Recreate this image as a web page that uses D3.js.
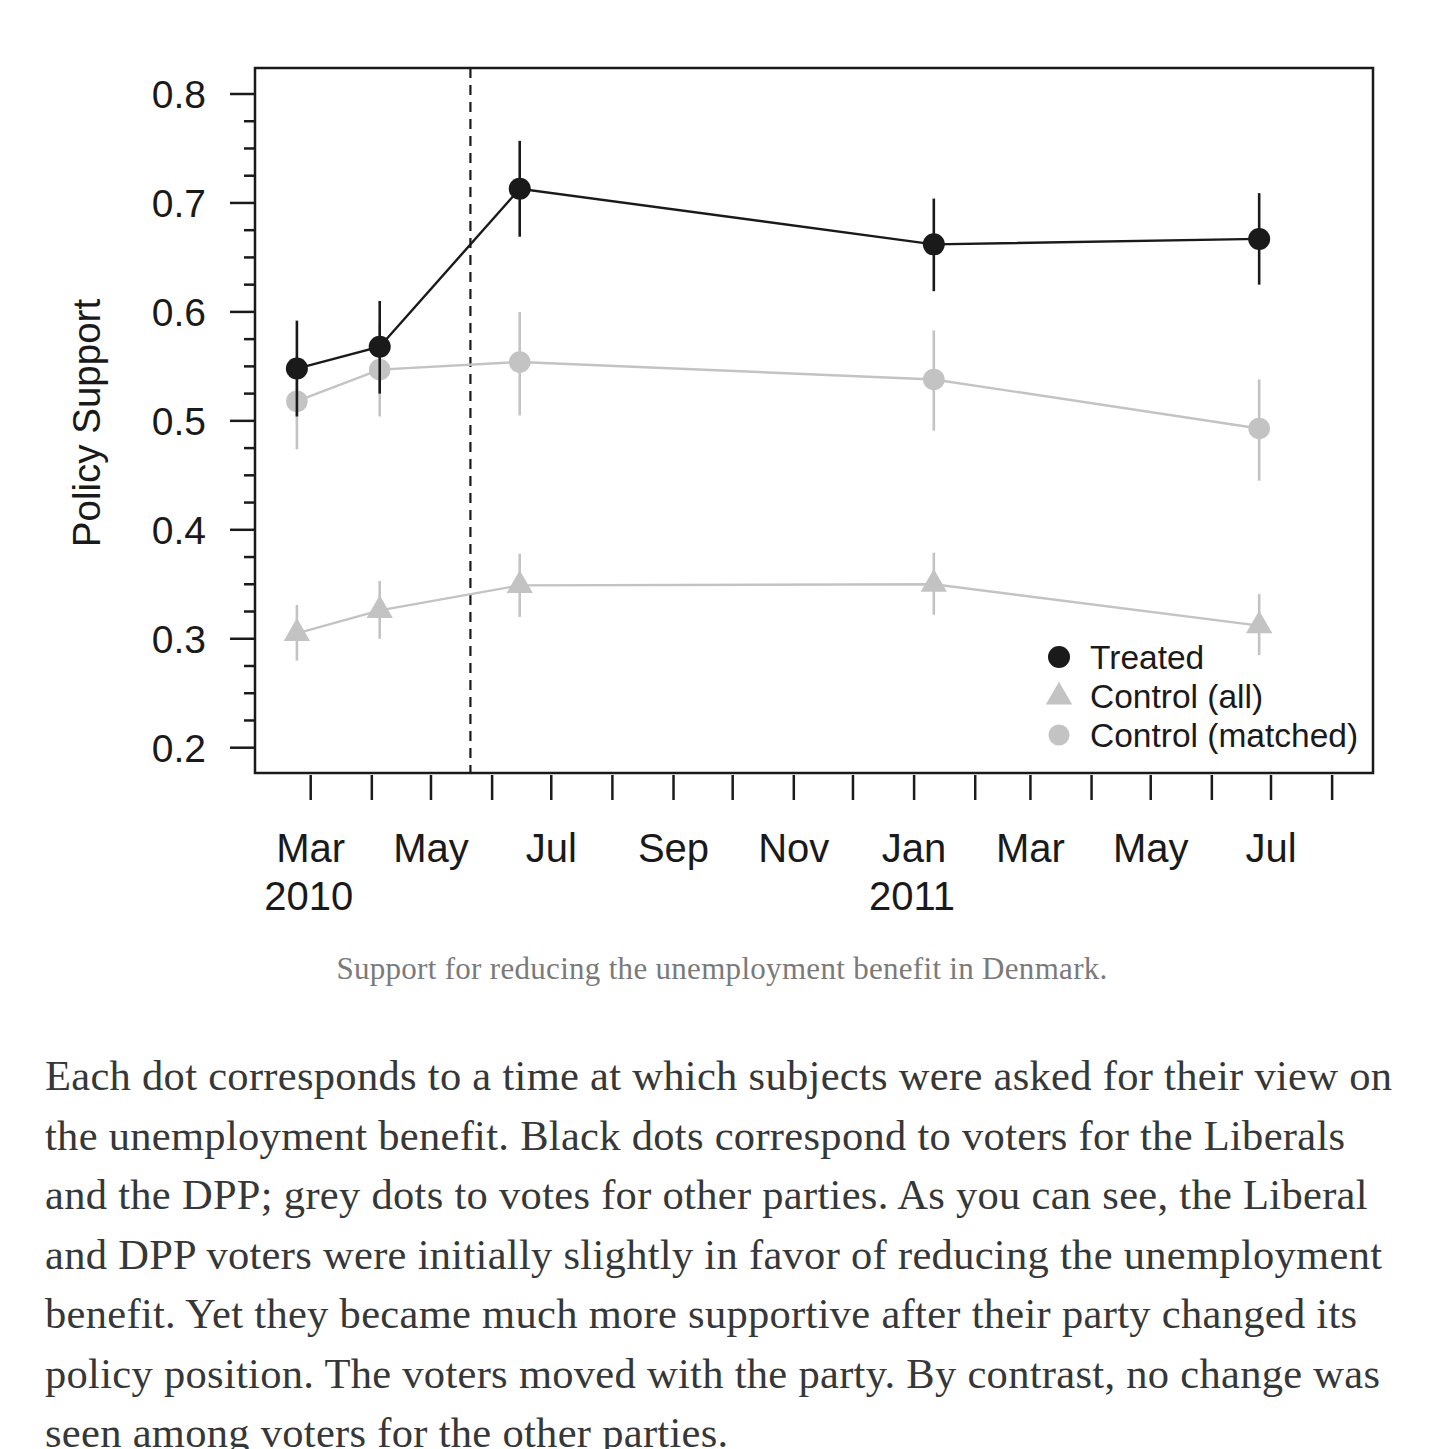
<!DOCTYPE html>
<html>
<head>
<meta charset="utf-8">
<script src="https://cdn.jsdelivr.net/npm/d3@7/dist/d3.min.js"></script>
<style>
  body { margin: 0; background: #fff; }
  svg { display: block; }
</style>
</head>
<body>
<svg id="chart" width="1456" height="1449"></svg>
<script>
// survey waves and estimates
const surveyDates = ["2010-02-22", "2010-04-05", "2010-06-15", "2011-01-11", "2011-06-25"];
const treatedMean = [0.548, 0.568, 0.713, 0.662, 0.667];
const treatedLow = [0.504, 0.525, 0.669, 0.619, 0.625];
const treatedHigh = [0.592, 0.610, 0.757, 0.704, 0.709];
const controlAllMean = [0.305, 0.326, 0.349, 0.350, 0.312];
const controlAllLow = [0.280, 0.300, 0.320, 0.322, 0.285];
const controlAllHigh = [0.331, 0.353, 0.378, 0.379, 0.341];
const matchedMean = [0.518, 0.547, 0.554, 0.538, 0.493];
const matchedLow = [0.474, 0.504, 0.505, 0.491, 0.445];
const matchedHigh = [0.560, 0.589, 0.600, 0.583, 0.538];
const policyChangeDate = "2010-05-21";

const yMajorTicks = [0.2, 0.3, 0.4, 0.5, 0.6, 0.7, 0.8];
const monthNames = ["Jan", "Feb", "Mar", "Apr", "May", "Jun", "Jul", "Aug", "Sep", "Oct", "Nov", "Dec"];
const legendLabels = ["Treated", "Control (all)", "Control (matched)"];
const yTitle = "Policy Support";
const caption = "Support for reducing the unemployment benefit in Denmark.";
const bodyLines = [
  "Each dot corresponds to a time at which subjects were asked for their view on",
  "the unemployment benefit. Black dots correspond to voters for the Liberals",
  "and the DPP; grey dots to votes for other parties. As you can see, the Liberal",
  "and DPP voters were initially slightly in favor of reducing the unemployment",
  "benefit. Yet they became much more supportive after their party changed its",
  "policy position. The voters moved with the party. By contrast, no change was",
  "seen among voters for the other parties."
];

const BLACK = "#1a1a1a";
const GREY = "#c3c3c3";
const sans = "'Liberation Sans', Arial, Helvetica, sans-serif";
const serif = "'Liberation Serif', 'DejaVu Serif', serif";

const box = { left: 255, right: 1373, top: 68, bottom: 773 };
const parse = d3.utcParse("%Y-%m-%d");

const x = d3.scaleUtc()
  .domain([parse("2010-03-01"), parse("2011-07-01")])
  .range([310.7, 1271]);
const y = d3.scaleLinear().domain([0.2, 0.8]).range([747.7, 94]);

const svg = d3.select("#chart");

function buildSeries(mean, low, high) {
  return surveyDates.map((d, i) => ({ date: parse(d), mean: mean[i], low: low[i], high: high[i] }));
}
const treated = buildSeries(treatedMean, treatedLow, treatedHigh);
const controlAll = buildSeries(controlAllMean, controlAllLow, controlAllHigh);
const matched = buildSeries(matchedMean, matchedLow, matchedHigh);

// y axis ticks (major every 0.1, minor every 0.025)
const yMinor = d3.range(0, 25).map((i) => 0.2 + i * 0.025).filter((v) => v <= 0.8001);
svg.append("g").selectAll("line")
  .data(yMinor)
  .join("line")
  .attr("x1", (d) => yMajorTicks.some((t) => Math.abs(t - d) < 1e-6) ? 230 : 244)
  .attr("x2", box.left)
  .attr("y1", (d) => y(d)).attr("y2", (d) => y(d))
  .attr("stroke", BLACK).attr("stroke-width", 2.5);

svg.append("g").selectAll("text")
  .data(yMajorTicks)
  .join("text")
  .attr("x", 206)
  .attr("y", (d) => y(d) + 14)
  .attr("text-anchor", "end")
  .attr("font-family", sans).attr("font-size", 39).attr("fill", BLACK)
  .text((d) => d.toFixed(1));

svg.append("text")
  .attr("transform", "translate(100,423) rotate(-90)")
  .attr("text-anchor", "middle")
  .attr("font-family", sans).attr("font-size", 38.5).attr("fill", BLACK)
  .text(yTitle);

// x axis: monthly ticks below the box, labels every second month
const months = d3.utcMonth.range(parse("2010-03-01"), parse("2011-08-02"));
svg.append("g").selectAll("line")
  .data(months)
  .join("line")
  .attr("x1", (d) => x(d)).attr("x2", (d) => x(d))
  .attr("y1", 775).attr("y2", 800)
  .attr("stroke", BLACK).attr("stroke-width", 2.5);

const labelled = months.filter((d) => d.getUTCMonth() % 2 === 0);
svg.append("g").selectAll("text")
  .data(labelled)
  .join("text")
  .attr("x", (d) => x(d))
  .attr("y", 862)
  .attr("text-anchor", "middle")
  .attr("font-family", sans).attr("font-size", 40).attr("fill", BLACK)
  .text((d) => monthNames[d.getUTCMonth()]);

svg.append("g").selectAll("text")
  .data(months.filter((d) => d.getUTCMonth() === 2 && d.getUTCFullYear() === 2010 || d.getUTCMonth() === 0))
  .join("text")
  .attr("x", (d) => x(d) - 2)
  .attr("y", 910)
  .attr("text-anchor", "middle")
  .attr("font-family", sans).attr("font-size", 40).attr("fill", BLACK)
  .text((d) => d.getUTCFullYear());

// policy change marker
svg.append("line")
  .attr("x1", x(parse(policyChangeDate))).attr("x2", x(parse(policyChangeDate)))
  .attr("y1", box.top).attr("y2", box.bottom)
  .attr("stroke", BLACK).attr("stroke-width", 2.2)
  .attr("stroke-dasharray", "10,7");

const line = d3.line().x((d) => x(d.date)).y((d) => y(d.mean));
const triangle = d3.symbol().type(d3.symbolTriangle).size(300);

function drawSeries(data, color, marker, r) {
  const g = svg.append("g");
  g.append("path").datum(data)
    .attr("d", line).attr("fill", "none")
    .attr("stroke", color).attr("stroke-width", 2.4);
  g.selectAll("line.ci").data(data).join("line")
    .attr("class", "ci")
    .attr("x1", (d) => x(d.date)).attr("x2", (d) => x(d.date))
    .attr("y1", (d) => y(d.low)).attr("y2", (d) => y(d.high))
    .attr("stroke", color).attr("stroke-width", 2.6);
  if (marker === "triangle") {
    g.selectAll("path.pt").data(data).join("path")
      .attr("class", "pt")
      .attr("d", triangle)
      .attr("transform", (d) => `translate(${x(d.date)},${y(d.mean)})`)
      .attr("fill", color);
  } else {
    g.selectAll("circle").data(data).join("circle")
      .attr("cx", (d) => x(d.date)).attr("cy", (d) => y(d.mean))
      .attr("r", r).attr("fill", color);
  }
}

drawSeries(controlAll, GREY, "triangle");
drawSeries(matched, GREY, "circle", 10.8);
drawSeries(treated, BLACK, "circle", 11);

// plot frame
svg.append("rect")
  .attr("x", box.left).attr("y", box.top)
  .attr("width", box.right - box.left).attr("height", box.bottom - box.top)
  .attr("fill", "none").attr("stroke", BLACK).attr("stroke-width", 2.5);

// legend
const legend = svg.append("g").attr("transform", "translate(1059,657)");
const legendRows = legend.selectAll("g").data(legendLabels).join("g")
  .attr("transform", (d, i) => `translate(0,${i * 39})`);
legendRows.each(function (d, i) {
  const row = d3.select(this);
  if (i === 0) row.append("circle").attr("r", 11).attr("fill", BLACK);
  if (i === 1) row.append("path").attr("d", triangle).attr("transform", "translate(0,1)").attr("fill", GREY);
  if (i === 2) row.append("circle").attr("r", 10.5).attr("fill", GREY);
  row.append("text")
    .attr("x", 31).attr("y", 12)
    .attr("font-family", sans).attr("font-size", 33.5).attr("fill", BLACK)
    .text(d);
});

// caption and body text
svg.append("text")
  .attr("x", 722).attr("y", 979)
  .attr("text-anchor", "middle")
  .attr("font-family", serif).attr("font-size", 31).attr("letter-spacing", 0.3)
  .attr("fill", "#7a7a7a")
  .text(caption);

const body = svg.append("g");
body.selectAll("text").data(bodyLines).join("text")
  .attr("x", 45)
  .attr("y", (d, i) => 1090 + i * 59.5)
  .attr("font-family", serif).attr("font-size", 42.5).attr("letter-spacing", 0.3)
  .attr("fill", "#363737")
  .text((d) => d);
</script>
</body>
</html>
